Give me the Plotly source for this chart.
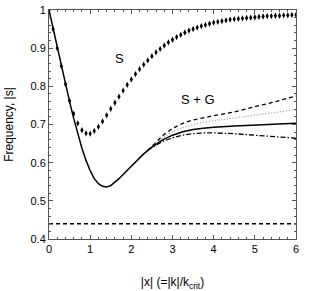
import plotly.graph_objects as go

# S curve (diamonds), sampled at x = 0, 0.1, ..., 6
s_x = [round(i * 0.1, 1) for i in range(61)]
s_y = [1.0, 0.95, 0.90, 0.853, 0.806, 0.762, 0.728, 0.703, 0.685, 0.677,
       0.676, 0.683, 0.694, 0.708, 0.724, 0.741, 0.757, 0.773, 0.789, 0.804,
       0.818, 0.832, 0.845, 0.857, 0.868, 0.879, 0.889, 0.898, 0.907, 0.915,
       0.922, 0.929, 0.935, 0.941, 0.946, 0.950, 0.954, 0.958, 0.961, 0.964,
       0.967, 0.969, 0.971, 0.973, 0.975, 0.976, 0.977, 0.978, 0.979, 0.980,
       0.981, 0.982, 0.983, 0.984, 0.984, 0.985, 0.985, 0.986, 0.986, 0.987,
       0.987]

# Shared S+G trunk (all four S+G curves coincide here)
base_x = [0, 0.1, 0.2, 0.3, 0.4, 0.5, 0.6, 0.7, 0.8, 0.9, 1.0, 1.1, 1.2, 1.3,
          1.4, 1.5, 1.6, 1.7, 1.8, 1.9, 2.0, 2.1, 2.2, 2.3, 2.4]
base_y = [1.0, 0.951, 0.902, 0.853, 0.806, 0.760, 0.716, 0.675, 0.638, 0.606,
          0.579, 0.558, 0.545, 0.538, 0.536, 0.540, 0.548, 0.558, 0.569, 0.580,
          0.591, 0.602, 0.613, 0.623, 0.632]

# Branches after the split
br_x = [2.5, 2.75, 3.0, 3.25, 3.5, 3.75, 4.0, 4.5, 5.0, 5.5, 6.0]
solid_y = [0.641, 0.659, 0.672, 0.681, 0.687, 0.690, 0.693, 0.696, 0.698, 0.700, 0.703]
dashed_y = [0.643, 0.670, 0.690, 0.703, 0.712, 0.718, 0.723, 0.733, 0.746, 0.760, 0.775]
dotted_y = [0.642, 0.664, 0.681, 0.692, 0.700, 0.706, 0.710, 0.717, 0.724, 0.731, 0.739]
dashdot_y = [0.640, 0.655, 0.665, 0.672, 0.676, 0.678, 0.678, 0.676, 0.672, 0.668, 0.664]

hline_x = [0, 6]
hline_y = [0.44, 0.44]

y_ticks = [0.4, 0.5, 0.6, 0.7, 0.8, 0.9, 1.0]
y_ticklabels = ["0.4", "0.5", "0.6", "0.7", "0.8", "0.9", "1"]
x_ticks = [0, 1, 2, 3, 4, 5, 6]
x_ticklabels = ["0", "1", "2", "3", "4", "5", "6"]

fig = go.Figure()
tx, ty = base_x[-1], base_y[-1]
for ys, dash, color in [(dashed_y, "4px,3px", "black"), (dotted_y, "1px,2px", "#999999"),
                        (dashdot_y, "5px,2px,1.5px,2px", "black")]:
    fig.add_trace(go.Scatter(x=[tx] + br_x, y=[ty] + ys, mode="lines",
                             line=dict(color=color, width=1.3, dash=dash),
                             showlegend=False))
fig.add_trace(go.Scatter(x=base_x + br_x, y=base_y + solid_y, mode="lines",
                         line=dict(color="black", width=1.5),
                         showlegend=False))
fig.add_trace(go.Scatter(x=s_x, y=s_y, mode="markers",
                         marker=dict(symbol="diamond-tall", size=4.5, color="black"),
                         showlegend=False))
fig.add_trace(go.Scatter(x=hline_x, y=hline_y, mode="lines",
                         line=dict(color="black", width=1.3, dash="4px,3px"),
                         showlegend=False))

fig.add_annotation(x=1.72, y=0.873, text="S", showarrow=False,
                   font=dict(size=13, color="black"))
fig.add_annotation(x=3.63, y=0.766, text="S + G", showarrow=False,
                   font=dict(size=13, color="black"))

axis_common = dict(showgrid=False, zeroline=False, showline=True, linecolor="#555",
                   linewidth=1, mirror="allticks", ticks="inside", ticklen=4,
                   tickcolor="#555", tickfont=dict(size=11, color="black"),
                   automargin=False)
fig.update_xaxes(range=[0, 6], tickvals=x_ticks, ticktext=x_ticklabels, **axis_common,
                 minor=dict(ticks="inside", dtick=0.2, ticklen=2, tickcolor="#555"),
                 title=dict(text="|x| (=|k|/k<sub>crit</sub>)", font=dict(size=12),
                            standoff=23))
fig.update_yaxes(range=[0.4, 1.0], tickvals=y_ticks, ticktext=y_ticklabels, **axis_common,
                 minor=dict(ticks="inside", dtick=0.02, ticklen=2, tickcolor="#555"),
                 title=dict(text="Frequency, |s|", font=dict(size=12), standoff=14))

fig.update_layout(width=319, height=291, plot_bgcolor="white", paper_bgcolor="white",
                  margin=dict(l=49, r=23, t=10, b=52), hovermode=False,
                  font=dict(family="Liberation Sans, Arial, sans-serif", color="black"))

fig.write_html("out.html", config={"displayModeBar": False, "staticPlot": True},
               post_script="document.body.style.margin='0';document.body.style.overflow='hidden';")
